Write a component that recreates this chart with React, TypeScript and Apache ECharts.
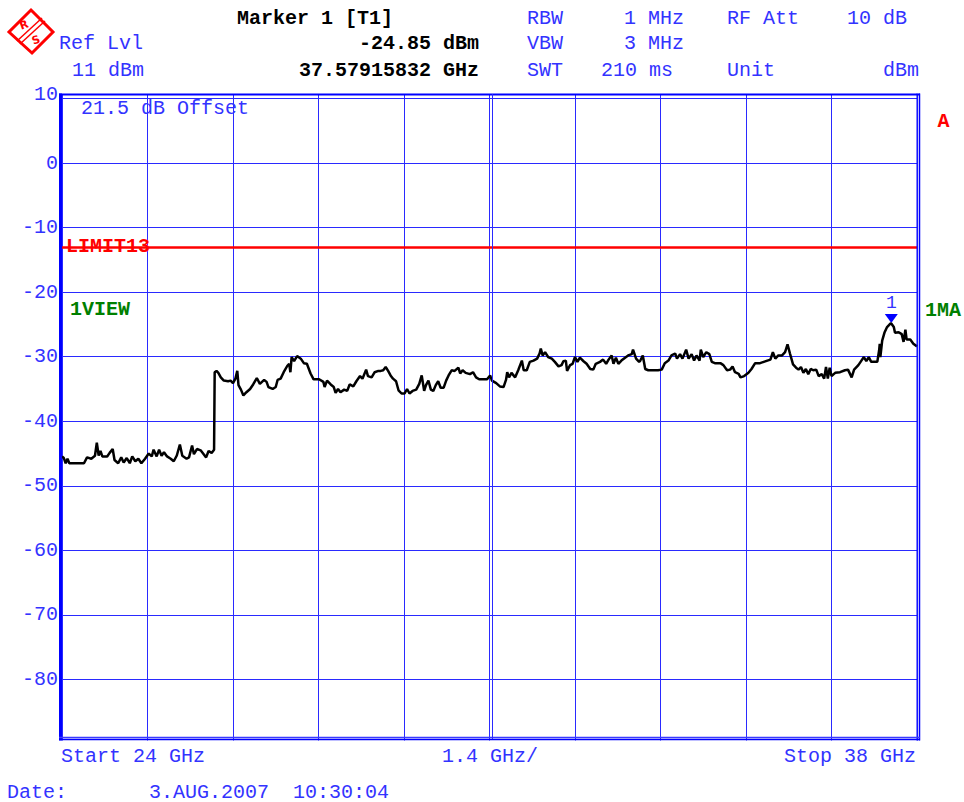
import React, { useEffect, useRef } from "react";
import * as echarts from "echarts";

const freqGHz = [
  24.0, 24.03, 24.06, 24.09, 24.12, 24.36, 24.41, 24.48, 24.54, 24.57, 24.6, 24.63, 24.66, 24.74, 24.78, 24.83, 24.86, 24.92, 24.97, 25.01,
  25.06, 25.11, 25.15, 25.2, 25.25, 25.3, 25.36, 25.42, 25.47, 25.5, 25.55, 25.59, 25.63, 25.67, 25.72, 25.78, 25.83, 25.88, 25.93, 25.97,
  26.04, 26.08, 26.13, 26.16, 26.21, 26.27, 26.32, 26.36, 26.4, 26.45, 26.49, 26.5, 26.53, 26.56, 26.6, 26.65, 26.72, 26.76, 26.8, 26.84,
  26.87, 26.89, 26.93, 26.97, 27.02, 27.08, 27.13, 27.19, 27.24, 27.31, 27.35, 27.38, 27.45, 27.5, 27.53, 27.58, 27.63, 27.69, 27.72, 27.74,
  27.76, 27.8, 27.85, 27.91, 27.96, 28.01, 28.07, 28.12, 28.21, 28.28, 28.3, 28.34, 28.4, 28.45, 28.48, 28.52, 28.56, 28.62, 28.67, 28.71,
  28.77, 28.82, 28.88, 28.92, 28.98, 29.01, 29.07, 29.12, 29.18, 29.22, 29.26, 29.3, 29.34, 29.38, 29.42, 29.47, 29.51, 29.56, 29.61, 29.65,
  29.69, 29.74, 29.8, 29.85, 29.89, 29.93, 29.96, 30.0, 30.04, 30.08, 30.12, 30.16, 30.2, 30.25, 30.29, 30.33, 30.38, 30.43, 30.49, 30.52,
  30.56, 30.61, 30.68, 30.73, 30.78, 30.83, 30.9, 30.96, 31.01, 31.04, 31.11, 31.17, 31.23, 31.27, 31.29, 31.32, 31.36, 31.42, 31.47, 31.53,
  31.56, 31.61, 31.66, 31.72, 31.78, 31.82, 31.84, 31.87, 31.91, 31.96, 32.02, 32.07, 32.13, 32.18, 32.21, 32.25, 32.27, 32.32, 32.36, 32.4,
  32.44, 32.48, 32.54, 32.59, 32.65, 32.7, 32.74, 32.81, 32.86, 32.91, 32.95, 33.0, 33.03, 33.07, 33.11, 33.16, 33.22, 33.27, 33.33, 33.35,
  33.4, 33.45, 33.47, 33.51, 33.55, 33.6, 33.68, 33.76, 33.82, 33.87, 33.93, 33.98, 34.04, 34.07, 34.12, 34.16, 34.22, 34.26, 34.31, 34.35,
  34.39, 34.44, 34.46, 34.5, 34.55, 34.6, 34.64, 34.69, 34.78, 34.83, 34.89, 34.94, 34.98, 35.02, 35.08, 35.11, 35.17, 35.24, 35.29, 35.35,
  35.43, 35.49, 35.55, 35.6, 35.64, 35.68, 35.73, 35.79, 35.84, 35.88, 35.92, 35.97, 36.02, 36.06, 36.1, 36.14, 36.18, 36.22, 36.26, 36.3,
  36.35, 36.39, 36.44, 36.48, 36.51, 36.54, 36.57, 36.6, 36.66, 36.74, 36.82, 36.87, 36.93, 36.97, 37.04, 37.09, 37.13, 37.17, 37.21, 37.25,
  37.31, 37.35, 37.38, 37.39, 37.4, 37.43, 37.47, 37.51, 37.56, 37.579, 37.62, 37.64, 37.7, 37.75, 37.78, 37.81, 37.83, 37.89, 37.94, 38.0,
];

const levelDbm = [
  -45.45, -45.7, -46.5, -45.8, -46.5, -46.5, -45.6, -45.8, -45.35, -43.3, -45.3, -44.6, -45.45, -45.45, -44.9, -44.3, -46.0, -46.5, -45.6, -46.4,
  -45.7, -46.5, -45.45, -46.2, -45.8, -46.5, -45.8, -45.0, -45.45, -44.4, -45.45, -44.4, -45.35, -44.8, -45.45, -45.8, -46.2, -45.3, -43.6, -45.35,
  -45.8, -45.6, -43.75, -45.1, -44.3, -44.5, -45.1, -45.6, -44.6, -44.9, -44.4, -32.4, -32.2, -32.5, -33.2, -33.7, -33.8, -33.7, -34.1, -33.4,
  -32.2, -34.4, -35.1, -36.0, -35.5, -35.0, -34.3, -33.3, -34.2, -33.6, -33.9, -34.7, -35.0, -34.7, -33.6, -33.4, -32.4, -31.4, -31.1, -32.4,
  -30.05, -30.7, -29.9, -30.3, -31.0, -31.1, -32.6, -33.5, -33.5, -33.9, -34.7, -33.7, -34.3, -34.7, -35.6, -35.0, -35.5, -35.1, -35.3, -34.3,
  -34.6, -33.8, -33.0, -33.4, -32.0, -33.0, -33.2, -32.4, -32.2, -32.2, -32.1, -31.6, -32.2, -32.9, -33.4, -33.8, -35.2, -35.7, -35.7, -35.0,
  -35.7, -35.3, -35.1, -34.2, -32.9, -35.3, -34.4, -33.7, -35.1, -35.3, -34.4, -33.8, -34.8, -34.8, -33.7, -32.9, -32.1, -32.2, -31.7, -32.6,
  -32.1, -32.5, -32.7, -32.4, -33.2, -33.5, -33.5, -33.5, -32.9, -33.7, -34.1, -34.6, -34.7, -33.6, -32.4, -33.2, -32.5, -33.2, -32.1, -30.6,
  -32.1, -32.1, -30.8, -30.6, -30.3, -29.5, -28.75, -29.8, -29.3, -30.05, -30.3, -30.8, -31.5, -31.3, -30.7, -30.6, -32.2, -31.3, -31.1, -30.05,
  -30.8, -30.15, -30.7, -31.1, -31.9, -32.0, -31.1, -30.8, -30.45, -31.1, -30.45, -29.8, -31.1, -30.15, -31.1, -30.6, -30.15, -29.8, -29.6, -28.9,
  -30.3, -30.8, -30.6, -29.8, -31.9, -32.1, -32.1, -32.1, -32.0, -31.0, -30.6, -29.8, -29.5, -30.3, -29.6, -30.3, -28.9, -30.3, -29.6, -30.6,
  -29.8, -30.6, -28.9, -30.05, -29.3, -29.6, -30.8, -31.0, -31.0, -31.3, -32.1, -32.0, -31.5, -32.4, -32.65, -33.2, -33.0, -32.5, -31.9, -31.0,
  -31.0, -30.8, -30.6, -30.45, -29.3, -30.3, -29.8, -29.8, -29.3, -28.1, -29.5, -31.2, -31.7, -32.0, -31.6, -32.5, -31.9, -32.7, -31.9, -32.1,
  -32.0, -33.0, -32.7, -33.4, -31.6, -33.4, -31.7, -33.0, -32.5, -32.4, -32.1, -32.0, -33.2, -32.0, -31.3, -30.6, -30.05, -30.7, -30.05, -30.8,
  -30.8, -30.8, -29.0, -28.0, -30.05, -27.5, -26.2, -25.4, -24.9, -24.85, -25.4, -26.3, -26.2, -26.5, -27.7, -25.8, -27.35, -27.35, -28.0, -28.4,
];

const yTickLabels = ["0", "-10", "-20", "-30", "-40", "-50", "-60", "-70", "-80"];
const limitDbm = -13;
const markerFreq = 37.57915832;
const markerLevel = -24.85;

const FONT = '"Liberation Mono", "DejaVu Sans Mono", monospace';
const BLUE = "#3333ff";
const GRID = "#2a2aff";

function txt(text: string, x: number, y: number, fill: string, align = "left", weight = "normal", size = 20) {
  return {
    type: "text",
    x,
    y,
    z: 70,
    style: { text, fill, fontFamily: FONT, fontSize: size, fontWeight: weight, align, verticalAlign: "middle" },
  };
}

function ln(x1: number, y1: number, x2: number, y2: number, stroke: string, w: number) {
  return { type: "line", z: 60, shape: { x1, y1, x2, y2 }, style: { stroke, lineWidth: w } };
}

export default function App() {
  const ref = useRef<HTMLDivElement>(null);
  useEffect(() => {
    if (!ref.current) return;
    const chart = echarts.init(ref.current, undefined, { renderer: "svg" });
    const data = freqGHz.map((f, i) => [f, levelDbm[i]]);
    chart.setOption({
      animation: false,
      backgroundColor: "#ffffff",
      grid: { left: 62, width: 855, top: 94, height: 650, containLabel: false },
      xAxis: {
        type: "value",
        min: 24,
        max: 38,
        interval: 1.4,
        axisLine: { show: false },
        axisTick: { show: false },
        axisLabel: { show: false },
        splitLine: { show: true, lineStyle: { color: GRID, width: 1 } },
      },
      yAxis: {
        type: "value",
        min: -90,
        max: 10.7,
        interval: 10,
        axisLine: { show: false },
        axisTick: { show: false },
        axisLabel: {
          show: true,
          margin: 4,
          color: BLUE,
          fontFamily: FONT,
          fontSize: 20,
          formatter: (v: number) => {
            const s = String(Math.round(v));
            return Math.abs(v - Math.round(v)) < 1e-6 && yTickLabels.includes(s) ? s : "";
          },
        },
        splitLine: { show: true, lineStyle: { color: GRID, width: 1 } },
      },
      series: [
        {
          type: "line",
          data,
          showSymbol: false,
          symbol: "none",
          lineStyle: { color: "#000000", width: 2.5 },
          z: 5,
          markLine: {
            silent: true,
            symbol: "none",
            label: { show: false },
            lineStyle: { color: "#ff0000", width: 2.5, type: "solid" },
            data: [{ yAxis: limitDbm }],
          },
          markPoint: {
            symbol: "triangle",
            symbolSize: [13, 9],
            symbolRotate: 180,
            symbolOffset: [0, -5],
            itemStyle: { color: "#0000ff" },
            label: { show: true, position: "top", distance: 2, formatter: "1", color: BLUE, fontFamily: FONT, fontSize: 18 },
            data: [{ coord: [markerFreq, markerLevel], name: "1" }],
          },
        },
      ],
      graphic: [
        { type: "rect", z: 50, shape: { x: 50, y: 740.5, width: 880, height: 8 }, style: { fill: "#ffffff" } },
        ln(59, 94.5, 920, 94.5, "#0000ff", 2),
        ln(60.5, 93.5, 60.5, 740.5, "#0000ff", 3),
        ln(919.5, 93.5, 919.5, 740.5, "#0000ff", 1.5),
        ln(917, 93.5, 917, 740.5, "#0000ff", 1),
        ln(59, 737.5, 920, 737.5, "#3a3aff", 1.5),
        ln(59, 739.5, 920, 739.5, "#0000ff", 1.5),
        ln(492.5, 94, 492.5, 739, GRID, 1),
        // logo
        {
          type: "polygon",
          z: 60,
          shape: { points: [[31, 10], [53, 32], [32, 53], [9, 32]] },
          style: { stroke: "#ff0000", fill: "none", lineWidth: 3 },
        },
        ln(17, 41, 42, 18, "#ff0000", 1.5),
        ln(20, 44, 45, 21, "#ff0000", 1.5),
        { type: "text", z: 70, x: 24, y: 25, rotation: 0.35, style: { text: "R", fill: "#ff0000", fontFamily: "DejaVu Sans", fontWeight: "bold", fontSize: 11, align: "center", verticalAlign: "middle" } },
        { type: "text", z: 70, x: 36, y: 40, rotation: 0.35, style: { text: "S", fill: "#ff0000", fontFamily: "DejaVu Sans", fontWeight: "bold", fontSize: 11, align: "center", verticalAlign: "middle" } },
        // header
        txt("Marker 1 [T1]", 237, 18, "#000000", "left", "bold"),
        txt("Ref Lvl", 59, 43.5, BLUE),
        txt("11 dBm", 72, 70, BLUE),
        txt("-24.85 dBm", 479, 43.5, "#000000", "right", "bold"),
        txt("37.57915832 GHz", 479, 70, "#000000", "right", "bold"),
        txt("RBW", 527, 18, BLUE),
        txt("VBW", 527, 43.5, BLUE),
        txt("SWT", 527, 70, BLUE),
        txt("1 MHz", 684, 18, BLUE, "right"),
        txt("3 MHz", 684, 43.5, BLUE, "right"),
        txt("210 ms", 673, 70, BLUE, "right"),
        txt("RF Att", 727, 18, BLUE),
        txt("Unit", 727, 70, BLUE),
        txt("10 dB", 907, 18, BLUE, "right"),
        txt("dBm", 919, 70, BLUE, "right"),
        // in-plot annotations
        txt("10", 58, 94, BLUE, "right"),
        txt("21.5 dB Offset", 81, 108.5, BLUE),
        txt("A", 943.5, 121.5, "#ff0000", "center", "bold"),
        txt("LIMIT13", 66, 246.5, "#ff0000", "left", "bold"),
        txt("1VIEW", 70, 309, "#008000", "left", "bold"),
        txt("1MA", 925, 310, "#008000", "left", "bold"),
        // footer
        txt("Start 24 GHz", 61, 756, BLUE),
        txt("1.4 GHz/", 442, 756, BLUE),
        txt("Stop 38 GHz", 916, 756, BLUE, "right"),
        txt("Date:", 7, 792, BLUE),
        txt("3.AUG.2007  10:30:04", 149, 792, BLUE),
      ],
    });
    return () => chart.dispose();
  }, []);
  return (
    <div
      ref={ref}
      style={{ position: "fixed", left: 0, top: 0, width: 964, height: 802, background: "#ffffff" }}
    />
  );
}
